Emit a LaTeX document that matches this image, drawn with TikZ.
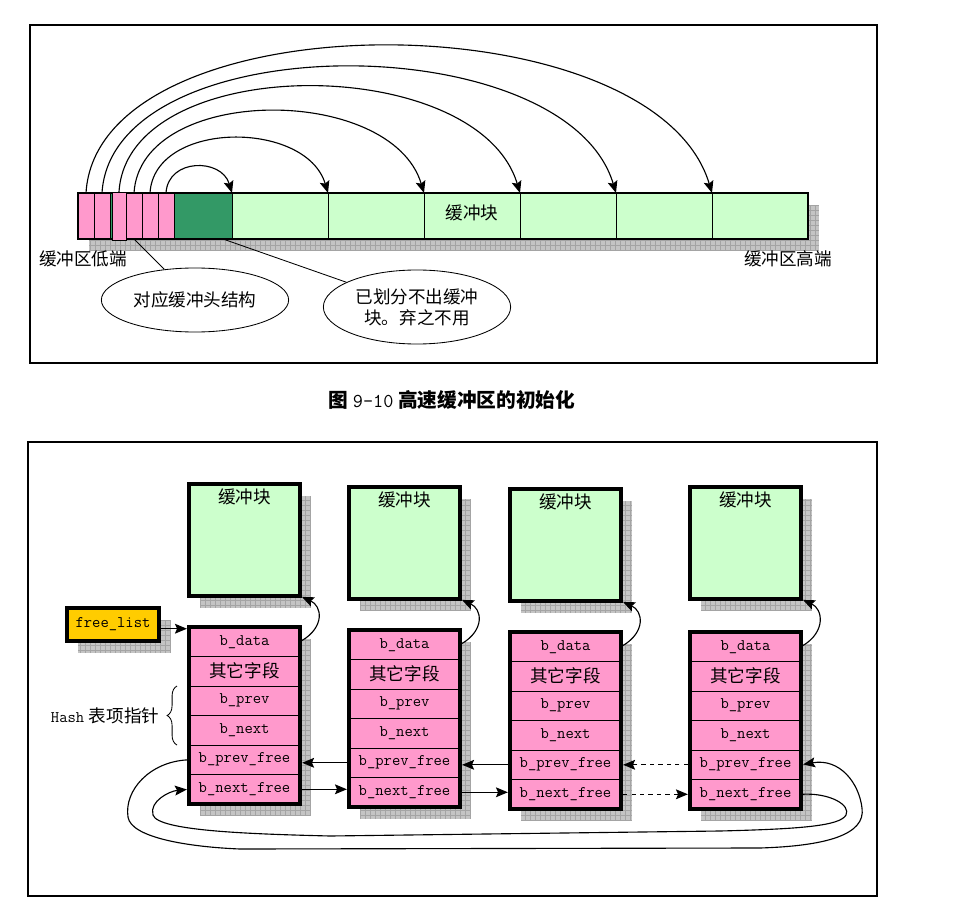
\documentclass[tikz,border=0pt]{standalone}
\usepackage{fontspec}
\newfontfamily\cjk{Noto Sans CJK SC}
\usepackage{tikz}
\usetikzlibrary{shapes, arrows.meta, positioning, backgrounds, decorations.pathreplacing}

\definecolor{bufpink}{HTML}{FF99CC}
\definecolor{bufgreen}{HTML}{CCFFCC}
\definecolor{deadgreen}{HTML}{339966}
\definecolor{listorange}{HTML}{FFCC00}
\definecolor{shadowgray}{HTML}{C4C4C4}
\definecolor{gridgray}{HTML}{A4A4A4}

\newcommand{\zhtext}{\cjk\fontsize{12.5}{15}\selectfont}
\newcommand{\monotext}{\ttfamily\fontsize{11.5}{13}\selectfont}
% grey grid shadow, shifted right and down
\newcommand{\gridshadow}[2]{%
	\fill[shadowgray] ([shift={(11,-12)}]#1) rectangle ([shift={(11,-12)}]#2);
	\draw[gridgray, line width=0.3pt, step=5] ([shift={(11,-12)}]#1) grid ([shift={(11,-12)}]#2);}

\begin{document}
\begin{tikzpicture}[x=0.025cm, y=0.025cm, >={Stealth[length=8.5pt,width=7pt,inset=1.5pt]}]
	\tikzstyle{frame} = [draw, line width=0.8pt]
	\tikzstyle{cell} = [draw, line width=0.5pt, minimum height=1.15cm, inner sep=0pt, outer sep=0pt, anchor=north west]
	\tikzstyle{bufbox} = [draw, line width=2.6pt, fill=bufgreen, minimum width=2.775cm, minimum height=2.8cm, anchor=north west, outer sep=0pt]
	\tikzstyle{row} = [draw, line width=0.5pt, fill=bufpink, minimum width=2.775cm, minimum height=0.7375cm, inner sep=0pt, outer sep=0pt, font=\monotext]
	\tikzstyle{note} = [draw, ellipse, line width=0.6pt, align=center, font=\zhtext]
	\tikzstyle{link} = [->, line width=0.8pt]

	\useasboundingbox (0,0) rectangle (960,-912);

	% upper figure
	\draw[frame] (30,-25) rectangle (877,-363);

	\fill[deadgreen] (110,-193) rectangle (112,-239);
	\foreach \i/\x in {1/78, 2/94, 4/126, 5/142, 6/158}
		\node[cell, fill=bufpink, minimum width=0.4cm] (p\i) at (\x,-193) {};
	\node[cell, fill=deadgreen, minimum width=1.45cm] (dg) at (174,-193) {};
	\foreach \i in {1,...,6}
		\node[cell, fill=bufgreen, minimum width=2.4cm] (g\i) at ({232+96*(\i-1)},-193) {};
	\node[font=\zhtext] (bartext) at ([shift={(0,3)}]g3.center) {缓冲块};
	\draw[line width=2pt] (p1.north west) rectangle (g6.south east);
	\node[cell, fill=bufpink, minimum width=0.35cm, minimum height=1.2cm] (p3) at (112,-192) {};

	\begin{scope}[on background layer]
		\gridshadow{p1.south west}{g6.north east}
	\end{scope}

	\foreach \a/\b/\h in {1/6/196, 2/5/168, 3/4/141, 4/3/109, 5/2/73, 6/1/35}
		\draw[link] (p\a.north) .. controls +(0.06*\h,\h) and +(-0.3*\h,\h) .. (g\b.north west);

	\node[font=\zhtext] (lowend) at (83,-259) {缓冲区低端};
	\node[font=\zhtext] (highend) at (788,-259) {缓冲区高端};

	\node[note, minimum width=4.65cm, minimum height=1.6cm] (headnote) at (195,-300) {对应缓冲头结构};
	\node[note, minimum width=4.65cm, minimum height=1.85cm] (wastenote) at (417,-307) {已划分不出缓冲\\块。弃之不用};
	\draw[line width=0.6pt] (p4.south) -- (headnote);
	\draw[line width=0.6pt] ([shift={(20,0)}]dg.south) -- (wastenote);

	\node[font=\cjk\bfseries\fontsize{14}{16}\selectfont] (caption) at (452,-400)
		{图\ {\ttfamily\mdseries\fontsize{14}{16}\selectfont 9-10}\ 高速缓冲区的初始化};

	% lower figure
	\draw[frame] (28,-442) rectangle (877,-896);

	\foreach \i/\x/\yb/\yp in {1/189/484/627, 2/349/487/630, 3/510/489/632, 4/690/487/632} {
		\node[bufbox, label={[anchor=north, font=\zhtext]north:缓冲块}] (buf\i) at (\x,-\yb) {};
		\node[row, anchor=north west] (data\i) at (\x,-\yp) {b\_data};
		\node[row, below=0pt of data\i, font=\zhtext] (other\i) {其它字段};
		\node[row, below=0pt of other\i] (prev\i) {b\_prev};
		\node[row, below=0pt of prev\i] (next\i) {b\_next};
		\node[row, below=0pt of next\i] (pfree\i) {b\_prev\_free};
		\node[row, below=0pt of pfree\i] (nfree\i) {b\_next\_free};
		\draw[line width=2.6pt] (data\i.north west) rectangle (nfree\i.south east);
		\draw[link, shorten >=1.5pt, shorten <=1.5pt] (data\i.east) .. controls +(25,15) and +(22,-10) .. (buf\i.south east);
		\begin{scope}[on background layer]
			\gridshadow{buf\i.south west}{buf\i.north east}
			\gridshadow{nfree\i.south west}{data\i.north east}
		\end{scope}
	}

	\node[draw, line width=2.6pt, fill=listorange, minimum width=2.3cm, minimum height=0.825cm, outer sep=0pt, font=\monotext] (freelist) at (113,-624.5) {free\_list};
	\begin{scope}[on background layer]
		\gridshadow{freelist.south west}{freelist.north east}
	\end{scope}
	\draw[link, shorten >=1.5pt, shorten <=1.5pt] ([yshift=-3pt]freelist.east) -- ([yshift=-3pt]freelist.east -| data1.west);

	\draw[link, shorten >=1.5pt, shorten <=1.5pt] (pfree2.west) -- (pfree2.west -| pfree1.east);
	\draw[link, shorten >=1.5pt, shorten <=1.5pt] (nfree1.east) -- (nfree1.east -| nfree2.west);
	\draw[link, shorten >=1.5pt, shorten <=1.5pt] (pfree3.west) -- (pfree3.west -| pfree2.east);
	\draw[link, shorten >=1.5pt, shorten <=1.5pt] (nfree2.east) -- (nfree2.east -| nfree3.west);
	\draw[link, dashed, shorten >=1.5pt, shorten <=1.5pt] (pfree4.west) -- (pfree4.west -| pfree3.east);
	\draw[link, dashed, shorten >=1.5pt, shorten <=1.5pt] (nfree3.east) -- (nfree3.east -| nfree4.west);

	% the two wrap-round links
	\draw[link, shorten >=1.5pt, shorten <=1.5pt] (pfree1.west) .. controls (150,-762) and (124,-790) .. (128,-817)
		.. controls (131,-838) and (190,-847) .. (240,-849) -- (760,-848)
		.. controls (825,-846) and (866,-835) .. (862,-808)
		.. controls (859,-783) and (840,-758) .. (pfree4.east);
	\draw[link, shorten >=1.5pt, shorten <=1.5pt] (nfree4.east) .. controls (830,-793) and (851,-805) .. (846,-815)
		.. controls (840,-826) and (800,-829) .. (720,-831) -- (330,-836)
		.. controls (250,-834) and (158,-831) .. (153,-815)
		.. controls (149,-801) and (170,-791) .. (nfree1.west);

	\draw[decorate, decoration={brace, amplitude=7pt}, line width=0.6pt]
		([shift={(-12,0)}]next1.south west) -- ([shift={(-12,0)}]prev1.north west)
		node[midway, left=9pt] (hashlabel) {{\monotext Hash} {\zhtext 表项指针}};
\end{tikzpicture}
\end{document}
